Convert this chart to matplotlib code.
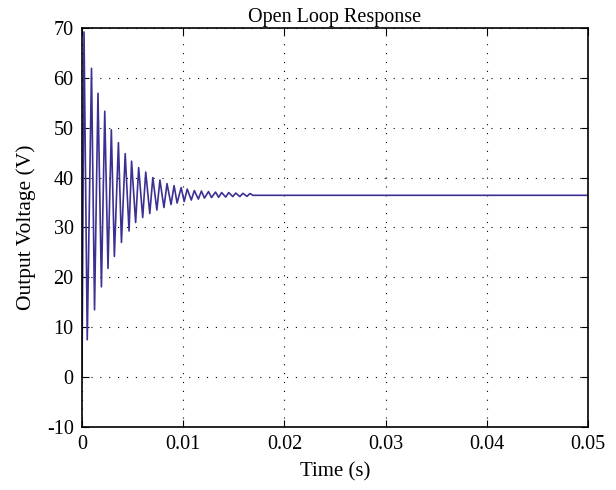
import matplotlib
matplotlib.use("Agg")
import matplotlib.pyplot as plt

# Peak / trough points (time in s, voltage in V)
peak_t = [0.0002, 0.00094, 0.00158, 0.00225, 0.0029, 0.0036, 0.00427, 0.0049,
          0.0056, 0.0063, 0.0070, 0.0077, 0.0084, 0.0091, 0.0098, 0.0104,
          0.0111, 0.0118, 0.0125, 0.0132, 0.0138, 0.0145, 0.0152, 0.0159, 0.0166]
peak_v = [69.2, 61.9, 56.9, 53.3, 49.6, 47.0, 44.8, 43.3,
          42.0, 41.1, 40.0, 39.5, 38.8, 38.4, 38.0, 37.7,
          37.4, 37.3, 37.2, 37.1, 37.0, 37.0, 36.9, 36.85, 36.8]
trough_t = [0.00052, 0.00124, 0.00192, 0.00257, 0.0032, 0.0039, 0.00465, 0.0053,
            0.0060, 0.0067, 0.0074, 0.0081, 0.0088, 0.0094, 0.0101, 0.0108,
            0.0115, 0.0121, 0.0128, 0.0135, 0.0142, 0.0149, 0.0156, 0.0163]
trough_v = [7.5, 13.5, 18.1, 21.8, 24.2, 27.0, 29.3, 31.0,
            32.0, 32.8, 33.5, 34.0, 34.6, 34.9, 35.2, 35.5,
            35.7, 35.9, 36.0, 36.05, 36.1, 36.2, 36.2, 36.25]
start_t, start_v = [0.0], [0.0]
end_t, end_v = [0.0169, 0.05], [36.45, 36.45]

x_ticks = [0, 0.01, 0.02, 0.03, 0.04, 0.05]
x_ticklabels = ["0", "0.01", "0.02", "0.03", "0.04", "0.05"]
y_ticks = [-10, 0, 10, 20, 30, 40, 50, 60, 70]
y_ticklabels = ["-10", "0", "10", "20", "30", "40", "50", "60", "70"]

# Assemble the waveform by interleaving peaks and troughs
pts = list(zip(start_t, start_v)) + list(zip(peak_t, peak_v)) + \
      list(zip(trough_t, trough_v)) + list(zip(end_t, end_v))
pts.sort(key=lambda p: p[0])
t = [p[0] for p in pts]
v = [p[1] for p in pts]

plt.rcParams['font.family'] = ['Liberation Serif', 'DejaVu Serif']

fig = plt.figure(figsize=(6.16, 4.90), dpi=100)
ax = fig.add_axes([0.1331, 0.1286, 0.9545 - 0.1331, 0.9429 - 0.1286])

ax.plot(t, v, color='#3a3192', linewidth=1.2)

ax.set_xlim(0, 0.05)
ax.set_ylim(-10, 70)
ax.set_xticks(x_ticks)
ax.set_xticklabels(x_ticklabels)
ax.set_yticks(y_ticks)
ax.set_yticklabels(y_ticklabels)

ax.grid(True, color='black', linestyle=(0, (1, 7)), linewidth=0.8)
ax.tick_params(direction='in', top=True, right=True, labelsize=14.5,
               length=5, width=0.8, pad=6)
for s in ax.spines.values():
    s.set_linewidth(1.2)

ax.set_title("Open Loop Response", fontsize=14.5, pad=4)
ax.set_xlabel("Time (s)", fontsize=15, labelpad=6)
ax.set_ylabel("Output Voltage (V)", fontsize=15.5, labelpad=8)

fig.savefig("out.png", dpi=100)
